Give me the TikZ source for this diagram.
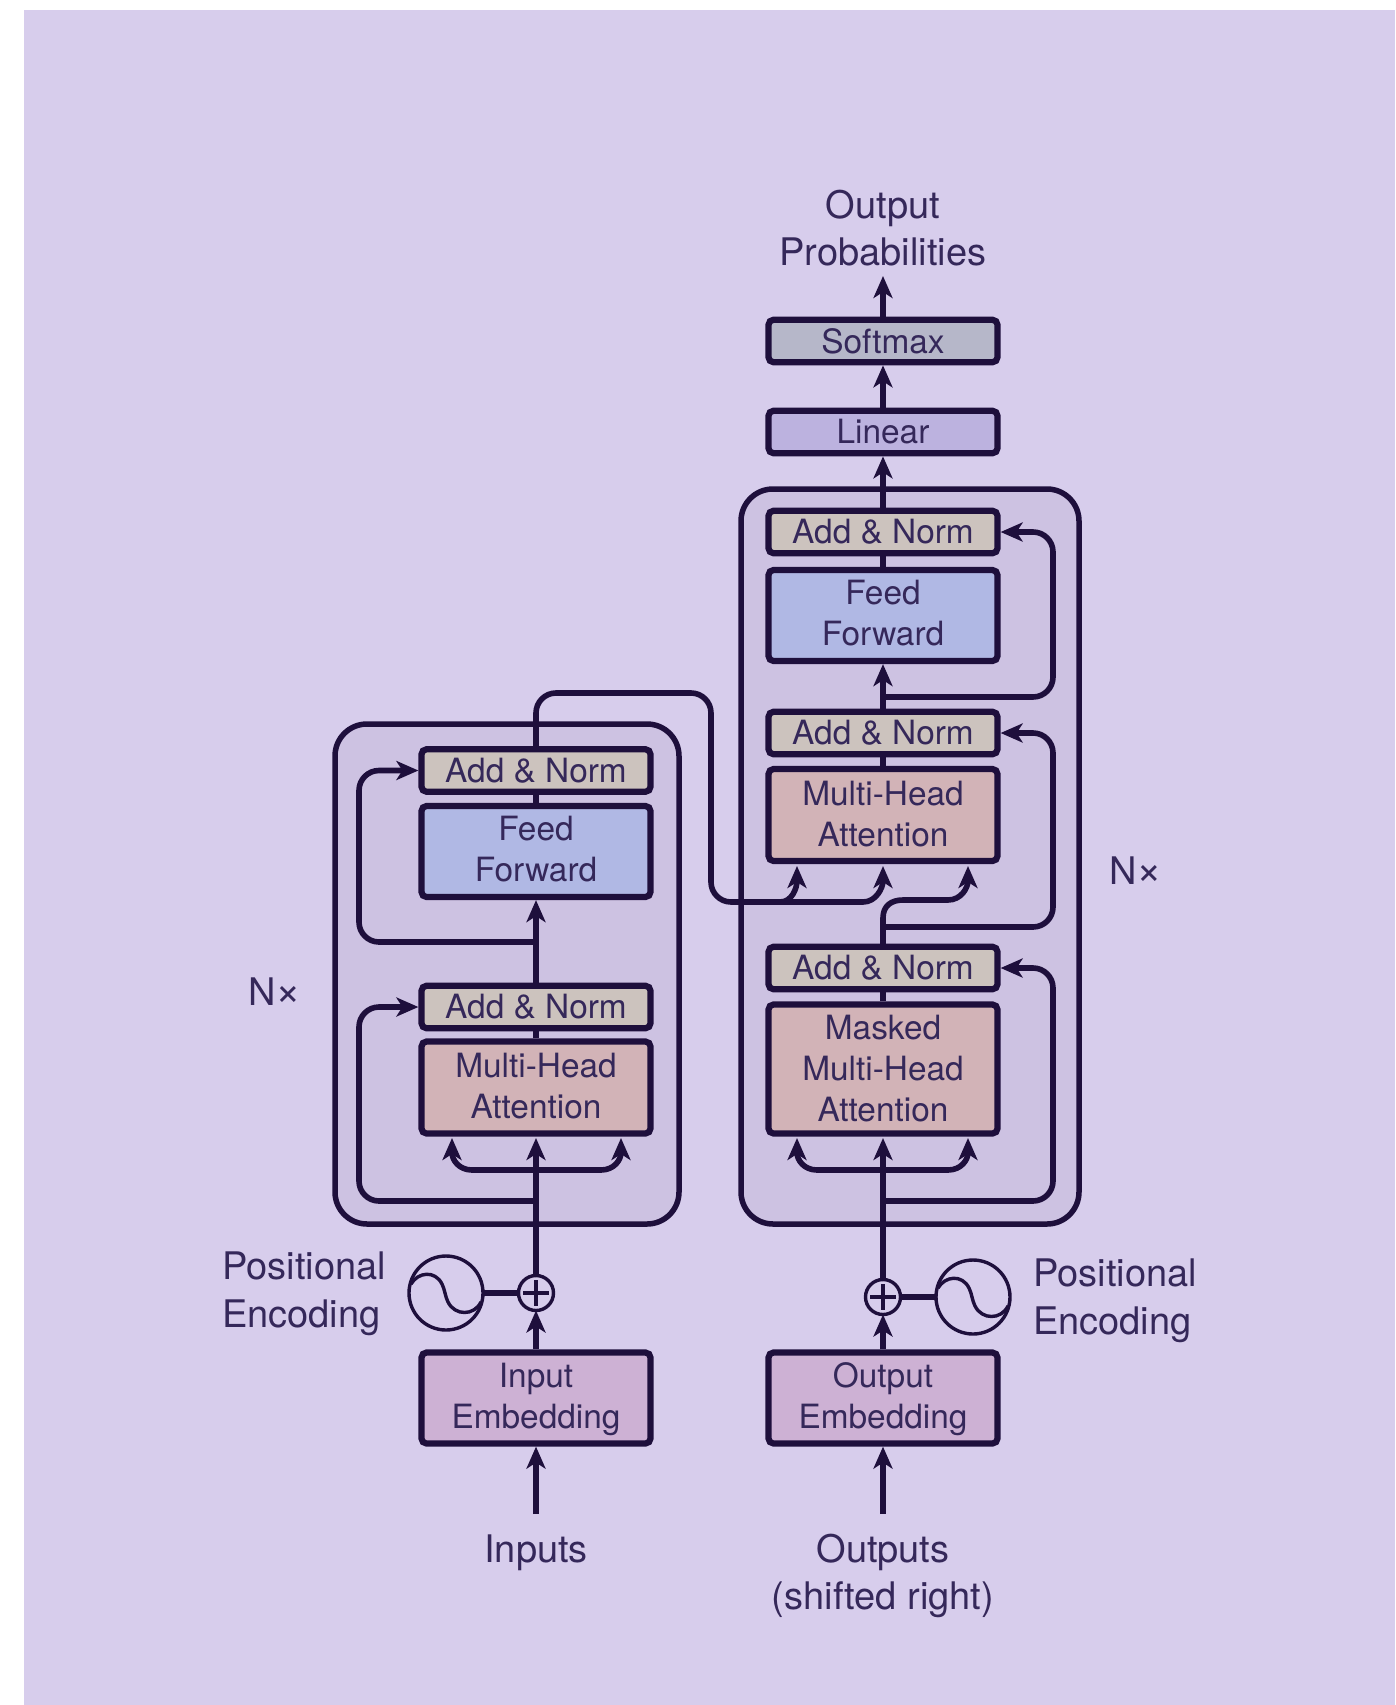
\documentclass[tikz,border=0pt]{standalone}
\usepackage{fontspec}
\setmainfont{TeX Gyre Heros}
\usetikzlibrary{arrows.meta,calc}
\definecolor{ink}{HTML}{1E0F3C}
\definecolor{tink}{HTML}{35285A}
\definecolor{bgc}{HTML}{D7CDEC}
\definecolor{stackc}{HTML}{CDC2E2}
\definecolor{normc}{HTML}{CCC3BE}
\definecolor{feedc}{HTML}{B0B8E4}
\definecolor{attc}{HTML}{D2B3B7}
\definecolor{embc}{HTML}{CDB1D4}
\definecolor{softc}{HTML}{B6B7C9}
\definecolor{linc}{HTML}{BCB2DF}
\tikzset{
  blk/.style={draw=ink,line width=6.2pt,rounded corners=5pt,minimum width=229pt,align=center,
    inner sep=0pt,text=tink,font=\fontsize{33.4}{41}\selectfont},
  normbox/.style={blk,fill=normc,minimum height=42.5pt},
  feedbox/.style={blk,fill=feedc,minimum height=91pt,text depth=5.5pt},
  attbox/.style={blk,fill=attc,minimum height=92pt,text depth=3pt},
  maskbox/.style={blk,fill=attc,minimum height=129pt,text depth=2pt},
  embbox/.style={blk,fill=embc,minimum height=91pt,text depth=4pt},
  stack/.style={draw=ink,fill=stackc,line width=5.5pt,rounded corners=32pt},
  conn/.style={draw=ink,line width=5.6pt,rounded corners=20pt},
  arr/.style={conn,-{Stealth[length=22pt,width=19pt,inset=6pt]}},
  barr/.style={arr,sharp corners},
  lab/.style={text=tink,align=center,inner sep=0pt,font=\fontsize{38}{47.5}\selectfont},
  thin/.style={draw=ink,line width=3.4pt},
  pluscirc/.style={circle,thin,minimum size=35pt,inner sep=0pt,outer sep=0pt},
  sinecirc/.style={circle,thin,minimum size=74pt,inner sep=0pt,outer sep=0pt},
}
\newcommand{\Nx}{N{\fontsize{44}{44}\selectfont ×}}
\begin{document}
\begin{tikzpicture}[x=1pt,y=-1pt]
\useasboundingbox (0,0) rectangle (1395,1705);
\fill[bgc] (24,10) rectangle (1395,1705);
% stacks
\draw[stack] (335,724) rectangle (679,1224);
\draw[stack] (741,489) rectangle (1079,1224);
% encoder boxes
\node[normbox] (ean2) at (536,770.5) {Add \& Norm};
\node[feedbox] (eff) at (536,851.5) {Feed\\Forward};
\node[normbox] (ean1) at (536,1007) {Add \& Norm};
\node[attbox] (emha) at (536,1087.5) {Multi-Head\\Attention};
\node[embbox] (iemb) at (536,1398) {Input\\Embedding};
% decoder boxes
\node[blk,fill=softc,minimum height=42.5pt] (soft) at (883,341) {Softmax};
\node[blk,fill=linc,minimum height=42.5pt] (lin) at (883,432) {Linear};
\node[normbox] (dan3) at (883,532) {Add \& Norm};
\node[feedbox] (dff) at (883,615.5) {Feed\\Forward};
\node[normbox] (dan2) at (883,733) {Add \& Norm};
\node[attbox,text depth=2pt] (dmha) at (883,815) {Multi-Head\\Attention};
\node[normbox] (dan1) at (883,968) {Add \& Norm};
\node[maskbox] (dmask) at (883,1069) {Masked\\Multi-Head\\Attention};
\node[embbox] (oemb) at (883,1398) {Output\\Embedding};
% positional encoding glyphs
\node[pluscirc] (eplus) at (536,1293) {};
\node[pluscirc] (dplus) at (883,1297) {};
\node[sinecirc] (esin) at (446,1293) {};
\node[sinecirc] (dsin) at (973,1297) {};
\foreach \c in {esin,dsin}{
  \draw[thin] ($(\c)+(-35,-9)$) .. controls ($(\c)+(-28,-21)$) and ($(\c)+(-11,-23)$) .. ($(\c)+(-4,-9)$)
     .. controls ($(\c)+(-1,-3)$) and ($(\c)+(-1,3)$) .. ($(\c)+(2,9)$)
     .. controls ($(\c)+(9,23)$) and ($(\c)+(28,23)$) .. ($(\c)+(35,9)$);
}
\foreach \c in {eplus,dplus}{
  \draw[thin] ($(\c)+(0,-13)$) -- ($(\c)+(0,13)$) ($(\c)+(-13,0)$) -- ($(\c)+(13,0)$);
}
% labels
\node[lab] (oprob) at (883,228) {Output\\Probabilities};
\node[lab] (inp) at (536,1553) {Inputs};
\node[lab] (outp) at (883,1576) {Outputs\\(shifted right)};
\node[lab,align=left,anchor=west] (pel) at (222,1294) {Positional\\Encoding};
\node[lab,align=left,anchor=west] (per) at (1033,1301) {Positional\\Encoding};
\node[lab] (nl) at (275,992) {\Nx};
\node[lab] (nr) at (1136,871) {\Nx};
% free ends and routing coordinates
\coordinate (is) at (536,1514);
\coordinate (os) at (883,1514);
\coordinate (ptop) at (883,276);
\coordinate (rx) at (1053,0);
\coordinate (lx) at (359,0);
\coordinate (ej0) at (536,1170);
\coordinate (ej1) at (536,1201);
\coordinate (ej2) at (536,942);
\coordinate (dj0) at (883,1170);
\coordinate (dj1) at (883,1201);
\coordinate (dj2) at (883,927);
\coordinate (dj3) at (883,697);
\coordinate (el) at (452,1138);
\coordinate (er) at (621,1138);
\coordinate (ec) at (536,1138);
\coordinate (ml) at (797,1138);
\coordinate (mr) at (968,1138);
\coordinate (mc) at (883,1138);
\coordinate (al) at (797,866);
\coordinate (ac) at (883,866);
\coordinate (ar) at (968,866);
\coordinate (crossa) at (536,693);
\coordinate (crossb) at (711,693);
\coordinate (crossc) at (711,902);
% encoder connectors
\draw[arr] (is) -- (iemb.south);
\draw[arr] (iemb.north) -- (eplus.south);
\draw[conn] (esin.east) -- (eplus.west);
\draw[arr] (eplus.north) -- (ec);
\draw[barr] (ej0) -- ($(el)+(20,32)$) .. controls ($(el)+(7,32)$) and ($(el)+(0,22)$) .. (el);
\draw[barr] (ej0) -- ($(er)+(-20,32)$) .. controls ($(er)+(-7,32)$) and ($(er)+(0,22)$) .. (er);
\draw[arr] (ej1) -- (ej1 -| lx) -- (ean1.west -| lx) -- (ean1.west);
\draw[conn] (emha.north) -- (ean1.south);
\draw[arr] (ean1.north) -- (eff.south);
\draw[arr] (ej2) -- (ej2 -| lx) -- (ean2.west -| lx) -- (ean2.west);
\draw[conn] (eff.north) -- (ean2.south);
% encoder to decoder
\draw[conn] (ean2.north) -- (crossa) -- (crossb) -- (crossc) -- ($(crossc)+(60,0)$);
\draw[barr] ($(crossc)+(50,0)$) -- ($(al)+(-17,36)$) .. controls ($(al)+(-5,36)$) and ($(al)+(0,22)$) .. (al);
\draw[barr] ($(al)+(-17,36)$) -- ($(ac)+(-20,36)$) .. controls ($(ac)+(-7,36)$) and ($(ac)+(0,22)$) .. (ac);
% decoder connectors
\draw[arr] (os) -- (oemb.south);
\draw[arr] (oemb.north) -- (dplus.south);
\draw[conn] (dsin.west) -- (dplus.east);
\draw[arr] (dplus.north) -- (mc);
\draw[barr] (dj0) -- ($(ml)+(20,32)$) .. controls ($(ml)+(7,32)$) and ($(ml)+(0,22)$) .. (ml);
\draw[barr] (dj0) -- ($(mr)+(-20,32)$) .. controls ($(mr)+(-7,32)$) and ($(mr)+(0,22)$) .. (mr);
\draw[arr] (dj1) -- (dj1 -| rx) -- (dan1.east -| rx) -- (dan1.east);
\draw[conn] (dmask.north) -- (dan1.south);
\draw[conn] (dan1.north) -- (dj2);
\draw[arr] (dj2) -- (dj2 -| rx) -- (dan2.east -| rx) -- (dan2.east);
\draw[barr] (dj2) -- ($(dj2)+(0,-9)$) .. controls ($(dj2)+(0,-21)$) and ($(dj2)+(8,-27)$) .. ($(dj2)+(20,-27)$)
   -- ($(ar)+(-20,34)$) .. controls ($(ar)+(-7,34)$) and ($(ar)+(0,22)$) .. (ar);
\draw[conn] (dmha.north) -- (dan2.south);
\draw[arr] (dan2.north) -- (dff.south);
\draw[arr] (dj3) -- (dj3 -| rx) -- (dan3.east -| rx) -- (dan3.east);
\draw[conn] (dff.north) -- (dan3.south);
\draw[arr] (dan3.north) -- (lin.south);
\draw[arr] (lin.north) -- (soft.south);
\draw[arr] (soft.north) -- (ptop);
\end{tikzpicture}
\end{document}
